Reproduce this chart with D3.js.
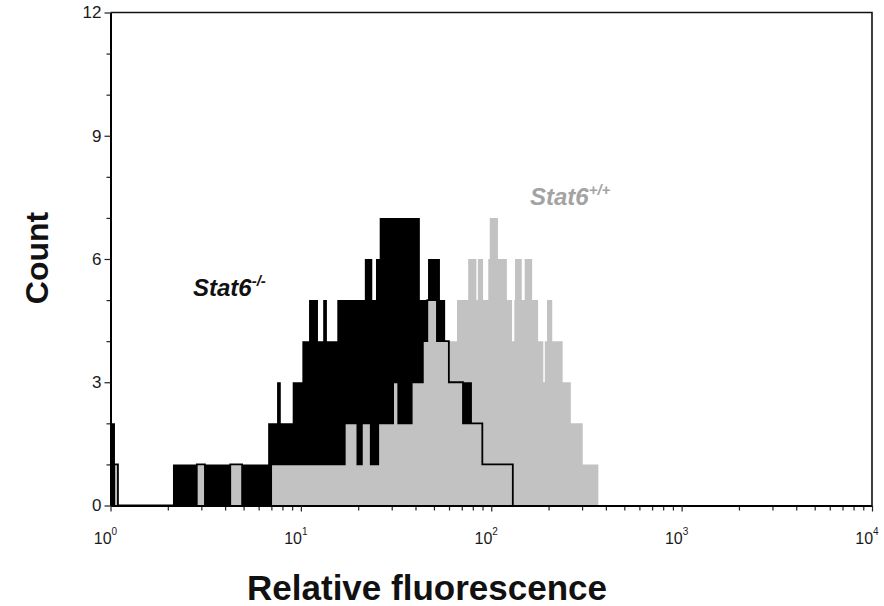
<!DOCTYPE html>
<html>
<head>
<meta charset="utf-8">
<script src="https://cdn.jsdelivr.net/npm/d3@7"></script>
<style>
  body { margin: 0; background: #fff; }
  svg { display: block; font-family: "Liberation Sans", Arial, sans-serif; }
</style>
</head>
<body>
<div class="chart"></div>
<script>
// histogram channels (1024 ch over 4 decades, value = 10^(ch/256)), counts per step
const knockoutEdges = [0, 6, 84, 116, 127, 161, 177, 212, 224, 229, 245, 258, 267, 279, 286, 291, 305, 342, 352, 357, 362, 416, 427, 443, 450, 455, 486]
const knockoutCounts = [2, 0, 1, 0, 1, 0, 1, 2, 3, 2, 3, 4, 5, 4, 5, 4, 5, 6, 5, 6, 7, 5, 6, 5, 4, 3]

const controlEdges = [5, 10, 116, 127, 161, 177, 216, 315, 332, 338, 350, 360, 380, 387, 405, 420, 426, 439, 455, 474, 500, 541]
const controlCounts = [1, 0, 1, 0, 1, 0, 1, 2, 1, 2, 1, 2, 3, 2, 3, 4, 5, 4, 3, 2, 1]

const wildtypeEdges = [450, 466, 481, 492, 494, 501, 508, 510, 521, 533, 540, 543, 544, 553, 557, 567, 575, 582, 584, 587, 594, 608, 619, 635, 656]
const wildtypeCounts = [4, 5, 6, 5, 6, 5, 6, 7, 6, 5, 4, 5, 6, 5, 6, 5, 4, 3, 4, 5, 4, 3, 2, 1]

const xMajorTicks = [1, 10, 100, 1000, 10000]
const xExponents = ["0", "1", "2", "3", "4"]
const yMajorTicks = [0, 3, 6, 9, 12]
const yMinorTicks = [1, 2, 4, 5, 7, 8, 10, 11]

const width = 884, height = 606
const padding = {left: 110.5, right: 12, top: 12.5, bottom: 100.5}
const grey = "#c2c2c2"

const svg = d3.select(".chart").append("svg").attr("width", width).attr("height", height)

const xScale = d3.scaleLog().domain([1, 10000]).range([padding.left, width - padding.right])
const yScale = d3.scaleLinear().domain([0, 12]).range([height - padding.bottom, padding.top])

function stepPoints(edges, counts) {
    let pts = [[edges[0], 0]]
    for (let i = 0; i < counts.length; i++) pts.push([edges[i], counts[i]])
    pts.push([edges[edges.length - 1], counts[counts.length - 1]])
    pts.push([edges[edges.length - 1], 0])
    return pts
}

const chX = d => xScale(Math.pow(10, d[0] / 256))
const area = d3.area().curve(d3.curveStepAfter).x(chX).y0(yScale(0)).y1(d => yScale(d[1]))
const line = d3.line().curve(d3.curveStepAfter).x(chX).y(d => yScale(d[1]))

const plot = svg.append("g")
plot.append("path").attr("d", area(stepPoints(wildtypeEdges, wildtypeCounts))).attr("fill", grey)
plot.append("path").attr("d", area(stepPoints(knockoutEdges, knockoutCounts))).attr("fill", "#000")
plot.append("path").attr("d", area(stepPoints(controlEdges, controlCounts))).attr("fill", grey)
plot.append("path").attr("d", line(stepPoints(controlEdges, controlCounts)))
    .attr("fill", "none").attr("stroke", "#000").attr("stroke-width", 1.8)

// frame
svg.append("path")
    .attr("d", "M" + xScale(1) + "," + yScale(12) + "H" + xScale(10000) + "V" + yScale(0))
    .attr("fill", "none").attr("stroke", "#111").attr("stroke-width", 1.6)

// x axis: minor ticks then labelled decades
let xMinor = []
for (let k = 0; k < 4; k++) for (let m = 2; m < 10; m++) xMinor.push(m * Math.pow(10, k))

const xg = svg.append("g").attr("transform", "translate(0," + yScale(0) + ")")
xg.append("g").call(d3.axisBottom(xScale).tickValues(xMinor).tickFormat("").tickSize(5).tickSizeOuter(0))
    .call(g => g.select(".domain").remove())
const xMaj = xg.append("g").call(d3.axisBottom(xScale).tickValues(xMajorTicks).tickFormat("").tickSize(6).tickSizeOuter(0))
xMaj.select(".domain").attr("stroke-width", 2)
xg.selectAll(".tick line").attr("stroke", "#222").attr("stroke-width", 1.2)

const xLab = xg.append("g").selectAll("text").data(xMajorTicks).enter().append("text")
    .attr("x", d => xScale(d) - 5).attr("y", 38)
    .attr("text-anchor", "middle").attr("font-size", 16).attr("fill", "#1a1a1a")
xLab.append("tspan").text("10")
xLab.append("tspan").text((d, i) => xExponents[i]).attr("font-size", 10).attr("dy", -9)

// y axis
const yg = svg.append("g").attr("transform", "translate(" + xScale(1) + ",0)")
yg.append("g").call(d3.axisLeft(yScale).tickValues(yMinorTicks).tickFormat("").tickSize(4).tickSizeOuter(0))
    .call(g => g.select(".domain").remove())
const yMaj = yg.append("g").call(d3.axisLeft(yScale).tickValues(yMajorTicks).tickSize(6).tickSizeOuter(0))
yMaj.select(".domain").attr("stroke-width", 2)
yMaj.selectAll("text").attr("font-size", 17).attr("fill", "#1a1a1a").attr("font-family", "Liberation Sans, Arial, sans-serif")
yg.selectAll(".tick line").attr("stroke", "#222").attr("stroke-width", 1.2)

// titles
svg.append("text")
    .attr("transform", "translate(48,258) rotate(-90)")
    .attr("text-anchor", "middle").attr("font-size", 32).attr("font-weight", "bold").attr("fill", "#111")
    .text("Count")
svg.append("text")
    .attr("x", 427).attr("y", 600)
    .attr("text-anchor", "middle").attr("font-size", 35).attr("font-weight", "bold").attr("fill", "#111")
    .text("Relative fluorescence")

// series labels
function seriesLabel(x, y, sup, color) {
    const t = svg.append("text").attr("x", x).attr("y", y)
        .attr("font-size", 24).attr("font-weight", "bold").attr("font-style", "italic").attr("fill", color)
    t.append("tspan").text("Stat6")
    t.append("tspan").text(sup).attr("font-size", 15).attr("dy", -10)
}
seriesLabel(193, 296, "-/-", "#111")
seriesLabel(530, 205, "+/+", "#a3a3a3")
</script>
</body>
</html>
